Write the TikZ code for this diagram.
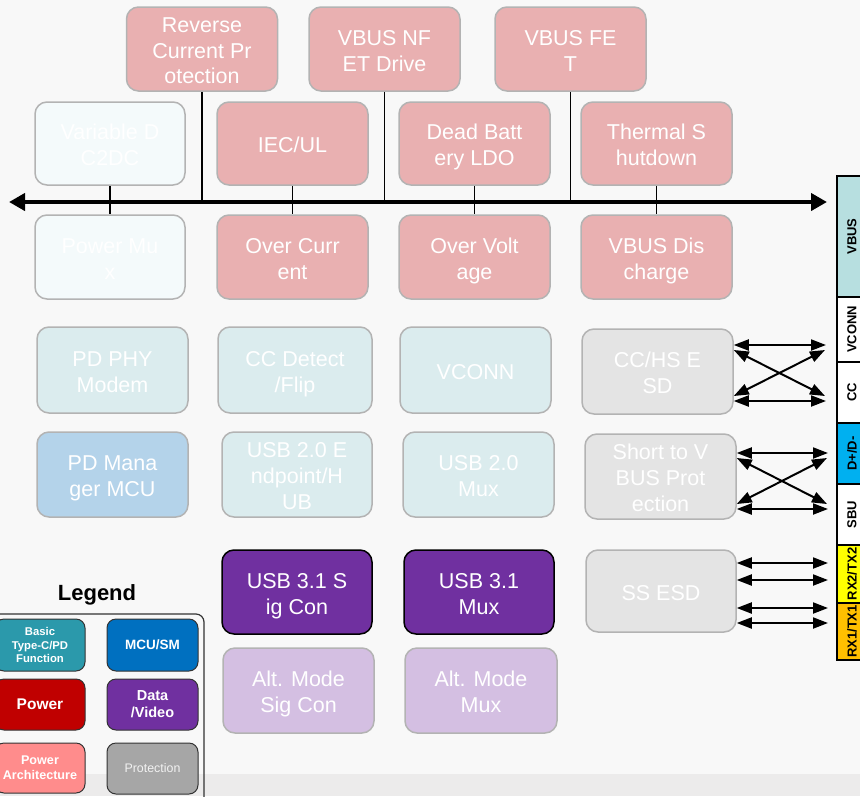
\documentclass[tikz,border=0pt]{standalone}
\usepackage{fontspec}
\setmainfont{Liberation Sans}
\usetikzlibrary{arrows.meta}
\definecolor{bg}{HTML}{F8F8F8}
\definecolor{band}{HTML}{ECEBEB}
\definecolor{boxline}{HTML}{B3B3B3}
\definecolor{pinkf}{HTML}{E9B0B1}
\definecolor{faintf}{HTML}{F4FAFB}
\definecolor{cyanf}{HTML}{DBECEE}
\definecolor{mcuf}{HTML}{B4D3EA}
\definecolor{grayf}{HTML}{E4E4E4}
\definecolor{purf}{HTML}{7030A0}
\definecolor{altf}{HTML}{D4BFE2}
\definecolor{legbasic}{HTML}{2B99AB}
\definecolor{legmcu}{HTML}{0070C0}
\definecolor{legpwr}{HTML}{C00000}
\definecolor{legarch}{HTML}{FF8C8C}
\definecolor{legprot}{HTML}{A6A6A6}
\definecolor{vbusc}{HTML}{B7DFE0}
\definecolor{dpc}{HTML}{00B0F0}
\definecolor{rx2c}{HTML}{FFFF00}
\definecolor{rx1c}{HTML}{FFC000}
\newcommand{\tS}{\rule{0pt}{23.2pt}}
\newcommand{\bS}{\rule[-5pt]{0pt}{5pt}}
\tikzset{
  blk/.style={draw=boxline, line width=1.5pt, rounded corners=12pt, align=center,
    text=white, inner sep=0pt, font=\fontsize{21.5}{25.8}\selectfont},
  pwr/.style={blk, fill=pinkf},
  faint/.style={blk, fill=faintf},
  cyanb/.style={blk, fill=cyanf},
  mcub/.style={blk, fill=mcuf},
  grayb/.style={blk, fill=grayf},
  purb/.style={blk, fill=purf, draw=black},
  altb/.style={blk, fill=altf},
  conn/.style={line width=1.5pt, draw=black},
  dbl/.style={line width=2pt, {Triangle[length=15pt,width=11pt]}-{Triangle[length=15pt,width=11pt]}},
  leg/.style={draw=black!80, line width=1pt, rounded corners=9pt, align=center, text=white,
    inner sep=0pt, minimum height=51pt},
  stripb/.style={draw=black, line width=1.5pt, rotate=90, inner sep=0pt, minimum height=30pt,
    font=\fontsize{13}{13}\selectfont\bfseries}
}
\begin{document}
\begin{tikzpicture}[x=1pt,y=-1pt]
\useasboundingbox (0,0) rectangle (860,796);
% background
\fill[bg] (0,0) rectangle (860,796);
\foreach \i in {0,...,9}{
  \fill[white,opacity=0.12] (0,0) -- ({80+14*\i},0) -- (0,{80+14*\i}) -- cycle;
  \fill[white,opacity=0.1] (880,-20) circle ({60+12*\i});
}
\fill[band] (0,774) rectangle (860,796);

% bus
\coordinate (busL) at (9,202);
\coordinate (busR) at (827,202);

% top row
\node[pwr, minimum width=151pt, minimum height=84pt] (rcp) at (202,49) {\tS Reverse\\Current Pr\\otection\bS};
\node[pwr, minimum width=151pt, minimum height=84pt] (vnf) at (384.5,49) {\tS VBUS NF\\ET Drive\bS};
\node[pwr, minimum width=151pt, minimum height=84pt] (vfet) at (570.5,49) {\tS VBUS FE\\T\bS};
% row 1
\node[faint, minimum width=150pt, minimum height=83pt] (vd) at (110,143.5) {\tS Variable D\\C2DC\bS};
\node[pwr, minimum width=151pt, minimum height=83pt] (iec) at (292.5,143.5) {\tS IEC/UL\bS};
\node[pwr, minimum width=151pt, minimum height=83pt] (db) at (474.5,143.5) {\tS Dead Batt\\ery LDO\bS};
\node[pwr, minimum width=151pt, minimum height=83pt] (ts) at (656.5,143.5) {\tS Thermal S\\hutdown\bS};
% row 2
\node[faint, minimum width=150pt, minimum height=84pt] (pm) at (110,257) {\tS Power Mu\\x\bS};
\node[pwr, minimum width=151pt, minimum height=84pt] (oc) at (292.5,257) {\tS Over Curr\\ent\bS};
\node[pwr, minimum width=151pt, minimum height=84pt] (ov) at (474.5,257) {\tS Over Volt\\age\bS};
\node[pwr, minimum width=151pt, minimum height=84pt] (vdis) at (656.5,257) {\tS VBUS Dis\\charge\bS};
% row 3
\node[cyanb, minimum width=151pt, minimum height=86pt] (phy) at (112.5,370) {\tS PD PHY\\Modem\bS};
\node[cyanb, minimum width=154pt, minimum height=86pt] (ccd) at (295,370) {\tS CC Detect\\/Flip\bS};
\node[cyanb, minimum width=151pt, minimum height=86pt] (vcn) at (475.5,370) {\tS VCONN\bS};
\node[grayb, minimum width=151pt, minimum height=85pt] (cchs) at (657.5,371.5) {\tS CC/HS E\\SD\bS};
% row 4
\node[mcub, minimum width=151pt, minimum height=85pt] (mcu) at (112.5,474.5) {\tS PD Mana\\ger MCU\bS};
\node[cyanb, minimum width=150pt, minimum height=85pt] (u2ep) at (297,474.5) {\tS USB 2.0 E\\ndpoint/H\\UB\bS};
\node[cyanb, minimum width=151pt, minimum height=85pt] (u2mux) at (478.5,474.5) {\tS USB 2.0\\Mux\bS};
\node[grayb, minimum width=151pt, minimum height=85pt] (stv) at (660.5,476.5) {\tS Short to V\\BUS Prot\\ection\bS};
% row 5
\node[purb, minimum width=150pt, minimum height=84pt] (u31s) at (297,592) {\tS USB 3.1 S\\ig Con\bS};
\node[purb, minimum width=150pt, minimum height=84pt] (u31m) at (479,592) {\tS USB 3.1\\Mux\bS};
\node[grayb, minimum width=150pt, minimum height=82pt] (ssesd) at (661,591) {\tS SS ESD\bS};
% row 6
\node[altb, minimum width=151pt, minimum height=85pt] (alts) at (298.5,690.5) {\tS Alt. Mode\\Sig Con\bS};
\node[altb, minimum width=152pt, minimum height=85pt] (altm) at (481,690.5) {\tS Alt. Mode\\Mux\bS};

% connectors to bus
\draw[conn] (rcp.south) -- (rcp.south |- busL);
\draw[conn] (vnf.south) -- (vnf.south |- busL);
\draw[conn] (vfet.south) -- (vfet.south |- busL);
\draw[conn] (vd.south) -- (pm.north);
\draw[conn] (iec.south) -- (oc.north);
\draw[conn] (db.south) -- (ov.north);
\draw[conn] (ts.south) -- (vdis.north);
\draw[line width=4pt, {Triangle[length=16pt,width=17pt]}-{Triangle[length=16pt,width=17pt]}] (busL) -- (busR);

% connector strip
\node[stripb, fill=vbusc, minimum width=121pt] (svbus) at (852,236.5) {VBUS};
\node[stripb, fill=white, minimum width=65pt] (svconn) at (852,329.5) {VCONN};
\node[stripb, fill=white, minimum width=61pt] (scc) at (852,392.5) {CC};
\node[stripb, fill=dpc, minimum width=61pt] (sdp) at (852,453.5) {D+/D-};
\node[stripb, fill=white, minimum width=61pt] (ssbu) at (852,514.5) {SBU};
\node[stripb, fill=rx2c, minimum width=58pt] (srx2) at (852,574) {RX2/TX2};
\node[stripb, fill=rx1c, minimum width=57pt] (srx1) at (852,631.5) {RX1/TX1};

% arrows CC/HS ESD
\coordinate (a1) at (826,345);
\coordinate (a2) at (826,401);
\coordinate (a3) at (825,350);
\coordinate (a4) at (825,396);
\draw[dbl] (cchs.east |- a1) -- (a1);
\draw[dbl] (cchs.east |- a2) -- (a2);
\draw[dbl] (cchs.east |- a3) -- (a4);
\draw[dbl] (cchs.east |- a4) -- (a3);
% arrows Short to VBUS
\coordinate (b1) at (828,453);
\coordinate (b2) at (828,509);
\coordinate (b3) at (827,458);
\coordinate (b4) at (827,504);
\draw[dbl] (stv.east |- b1) -- (b1);
\draw[dbl] (stv.east |- b2) -- (b2);
\draw[dbl] (stv.east |- b3) -- (b4);
\draw[dbl] (stv.east |- b4) -- (b3);
% arrows SS ESD
\coordinate (c1) at (828,563);
\coordinate (c2) at (828,580);
\coordinate (c3) at (828,608);
\coordinate (c4) at (828,623);
\draw[dbl] (ssesd.east |- c1) -- (c1);
\draw[dbl] (ssesd.east |- c2) -- (c2);
\draw[dbl] (ssesd.east |- c3) -- (c3);
\draw[dbl] (ssesd.east |- c4) -- (c4);

% legend
\node[font=\fontsize{22}{22}\selectfont\bfseries, text=black] (legt) at (97,595) {Legend};
\draw[draw=black!80, line width=1.2pt, rounded corners=8pt] (-12,614) rectangle (204,830);
\node[leg, fill=legbasic, minimum width=90pt, minimum height=52pt, font=\fontsize{11.3}{13.6}\selectfont\bfseries] (lbasic) at (40,645) {Basic\\Type-C/PD\\Function};
\node[leg, fill=legmcu, minimum width=91pt, minimum height=52pt, font=\fontsize{13.5}{14}\selectfont\bfseries] (lmcu) at (152.5,645) {MCU/SM};
\node[leg, fill=legpwr, minimum width=90pt, font=\fontsize{15.5}{16}\selectfont\bfseries] (lpwr) at (40,704.5) {Power};
\node[leg, fill=purf, minimum width=91pt, font=\fontsize{14.5}{17}\selectfont\bfseries] (ldata) at (152.5,704.5) {Data\\/Video};
\node[leg, fill=legarch, minimum width=90pt, minimum height=50pt, font=\fontsize{12.6}{15.2}\selectfont\bfseries] (larch) at (40,768) {Power\\Architecture};
\node[leg, fill=legprot, minimum width=91pt, minimum height=51pt, text=white!90!gray, font=\fontsize{12.4}{14}\selectfont] (lprot) at (152.5,768.5) {Protection};
\end{tikzpicture}
\end{document}
